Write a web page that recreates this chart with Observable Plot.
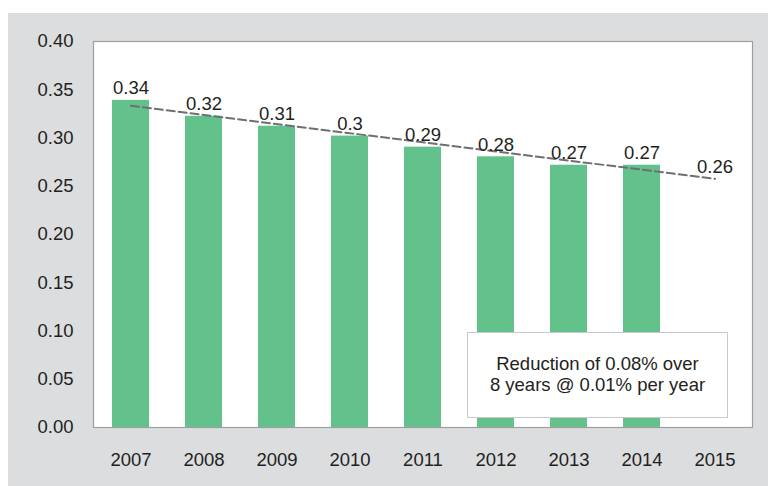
<!DOCTYPE html>
<html>
<head>
<meta charset="utf-8">
<script src="https://cdn.jsdelivr.net/npm/d3@7"></script>
<script src="https://cdn.jsdelivr.net/npm/@observablehq/plot@0.6"></script>
<style>
  html, body { margin: 0; padding: 0; background: #ffffff; }
  #panel { position: absolute; left: 8px; top: 13px; width: 760px; height: 473px; background: #dcdddf; }
  #panel svg { position: absolute; left: 0; top: 0; }
  #note { position: absolute; left: 459px; top: 319px; width: 261px; height: 86px;
    background: #ffffff; border: 1.5px solid #c9c9c9; box-sizing: border-box;
    font-family: "Liberation Sans", Arial, sans-serif; font-size: 18.5px; line-height: 21px;
    color: #231f20; text-align: center; padding-top: 20px; }
</style>
</head>
<body>
<div id="panel"></div>
<script>
const years = ["2007", "2008", "2009", "2010", "2011", "2012", "2013", "2014", "2015"];
const barYears = ["2007", "2008", "2009", "2010", "2011", "2012", "2013", "2014"];
const barValues = [0.339, 0.3225, 0.3122, 0.302, 0.2905, 0.2805, 0.2718, 0.2718];
const labelTexts = ["0.34", "0.32", "0.31", "0.3", "0.29", "0.28", "0.27", "0.27", "0.26"];
const labelValues = [0.339, 0.3225, 0.3122, 0.302, 0.2905, 0.2805, 0.2718, 0.2718, 0.2577];
const trendYears = ["2007", "2015"];
const trendValues = [0.3333, 0.2577];
const yTicks = [0, 0.05, 0.1, 0.15, 0.2, 0.25, 0.3, 0.35, 0.4];
const noteLines = ["Reduction of 0.08% over", "8 years @ 0.01% per year"];

const bars = barYears.map((y, i) => ({year: y, value: barValues[i]}));
const labels = years.map((y, i) => ({year: y, text: labelTexts[i], value: labelValues[i]}));
const trend = trendYears.map((y, i) => ({year: y, value: trendValues[i]}));

const font = "'Liberation Sans', Arial, sans-serif";
const ink = "#231f20";

const chart = Plot.plot({
  width: 760,
  height: 473,
  marginLeft: 85,
  marginRight: 16,
  marginTop: 28,
  marginBottom: 59,
  style: {fontFamily: font, fontSize: "18.5px", color: ink, background: "transparent", overflow: "visible"},
  x: {type: "band", domain: years, paddingInner: 0.5, paddingOuter: 0.25, label: null},
  y: {domain: [0, 0.4], label: null},
  marks: [
    Plot.frame({fill: "#ffffff", stroke: null}),
    Plot.barY(bars, {x: "year", y: "value", fill: "#63c28c"}),
    Plot.frame({stroke: "#9e9e9e", strokeWidth: 1.2}),
    Plot.line(trend, {x: "year", y: "value", stroke: "#6f6f6f", strokeWidth: 2, strokeDasharray: "8,4"}),
    Plot.text(labels, {x: "year", y: "value", text: "text", dy: -12, fontSize: 18.5, fill: ink}),
    Plot.axisY({ticks: yTicks, tickFormat: d3.format(".2f"), tickSize: 0, tickPadding: 20, fontSize: 18.5, fill: ink, label: null}),
    Plot.axisX({tickSize: 0, tickPadding: 25, fontSize: 18.5, fill: ink, label: null})
  ]
});
const panel = document.getElementById("panel");
panel.appendChild(chart);
const note = document.createElement("div");
note.id = "note";
note.innerHTML = noteLines.map(t => `<div>${t}</div>`).join("");
panel.appendChild(note);
</script>
</body>
</html>
